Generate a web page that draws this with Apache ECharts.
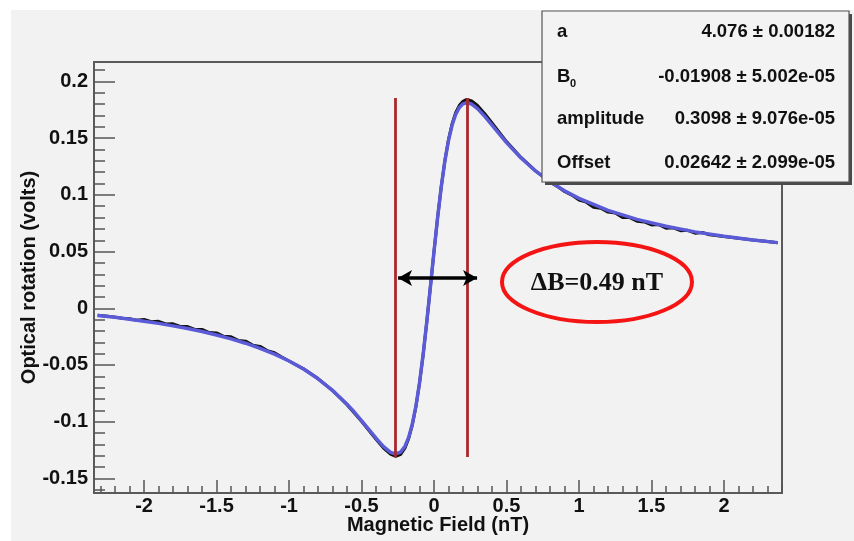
<!DOCTYPE html>
<html><head><meta charset="utf-8">
<script src="https://cdn.jsdelivr.net/npm/echarts@6/dist/echarts.min.js"></script>
<style>
html,body{margin:0;padding:0;background:#fff;}
#bg{position:absolute;left:11px;top:10px;width:843px;height:531px;background:#f2f2f2;}
#chart{position:absolute;left:0;top:0;width:854px;height:541px;}
</style></head><body>
<div id="bg"></div><div id="chart"></div>
<script>
// Fit curve (blue)
const fitX = [-2.32,-2.2,-2.1,-2.0,-1.9,-1.8,-1.7,-1.6,-1.5,-1.4,-1.3,-1.2,-1.1,-1.0,-0.9,-0.8,-0.7,-0.6,-0.55,-0.5,-0.45,-0.4,-0.35,-0.3,-0.264,-0.23,-0.2,-0.175,-0.15,-0.125,-0.1,-0.075,-0.05,-0.025,0,0.025,0.05,0.075,0.1,0.125,0.15,0.175,0.2,0.226,0.26,0.3,0.35,0.4,0.5,0.6,0.7,0.8,0.9,1.0,1.2,1.4,1.6,1.8,2.0,2.2,2.37];
const fitY = [-0.0063,-0.0080,-0.0096,-0.0114,-0.0133,-0.0155,-0.0179,-0.0205,-0.0236,-0.0270,-0.0308,-0.0353,-0.0405,-0.0465,-0.0536,-0.0622,-0.0724,-0.0846,-0.0915,-0.0990,-0.1068,-0.1146,-0.1218,-0.1271,-0.1285,-0.1268,-0.1216,-0.1139,-0.1023,-0.0864,-0.0658,-0.0408,-0.0121,0.0188,0.0502,0.0802,0.1071,0.1299,0.1480,0.1616,0.1711,0.1771,0.1803,0.1813,0.1800,0.1761,0.1692,0.1615,0.1461,0.1325,0.1211,0.1116,0.1036,0.0969,0.0863,0.0784,0.0723,0.0674,0.0635,0.0602,0.0579];
const dataX = [-2.32,-2.25,-2.2,-2.15,-2.1,-2.05,-2.0,-1.95,-1.9,-1.85,-1.8,-1.75,-1.7,-1.65,-1.6,-1.55,-1.5,-1.45,-1.4,-1.35,-1.3,-1.25,-1.2,-1.15,-1.1,-1.05,-1.0,-0.9,-0.8,-0.7,-0.6,-0.5,-0.45,-0.4,-0.35,-0.3,-0.264,-0.23,-0.2,-0.175,-0.15,-0.125,-0.1,-0.075,-0.05,-0.025,0,0.025,0.05,0.075,0.1,0.125,0.15,0.175,0.2,0.226,0.26,0.3,0.35,0.4,0.5,0.6,0.7,0.8,0.85,0.9,0.95,1.0,1.05,1.1,1.15,1.2,1.25,1.3,1.35,1.4,1.45,1.5,1.55,1.6,1.65,1.7,1.75,1.8,1.85,1.9,2.0,2.1,2.2,2.3,2.37];
const dataY = [-0.0061,-0.0071,-0.0078,-0.0088,-0.0093,-0.0106,-0.0098,-0.0118,-0.0115,-0.0138,-0.0137,-0.0160,-0.0161,-0.0186,-0.0187,-0.0214,-0.0217,-0.0247,-0.0251,-0.0283,-0.0290,-0.0325,-0.0336,-0.0373,-0.0392,-0.0430,-0.0465,-0.0534,-0.0620,-0.0725,-0.0850,-0.0996,-0.1076,-0.1156,-0.1230,-0.1287,-0.1307,-0.1288,-0.1232,-0.1150,-0.1030,-0.0868,-0.0660,-0.0410,-0.0122,0.0188,0.0502,0.0803,0.1073,0.1303,0.1488,0.1628,0.1728,0.1790,0.1825,0.1842,0.1828,0.1788,0.1716,0.1634,0.1470,0.1330,0.1212,0.1114,0.1075,0.1030,0.0998,0.0955,0.0936,0.0892,0.0883,0.0848,0.0840,0.0800,0.0800,0.0768,0.0762,0.0735,0.0738,0.0706,0.0710,0.0684,0.0688,0.0662,0.0668,0.0649,0.0634,0.0617,0.0602,0.0588,0.0578];

const xTicks = [-2,-1.5,-1,-0.5,0,0.5,1,1.5,2];
const yTicks = [-0.15,-0.1,-0.05,0,0.05,0.1,0.15,0.2];
const xMinor = [-2.3,-2.2,-2.1,-2.0,-1.9,-1.8,-1.7,-1.6,-1.5,-1.4,-1.3,-1.2,-1.1,-1.0,-0.9,-0.8,-0.7,-0.6,-0.5,-0.4,-0.3,-0.2,-0.1,0,0.1,0.2,0.3,0.4,0.5,0.6,0.7,0.8,0.9,1.0,1.1,1.2,1.3,1.4,1.5,1.6,1.7,1.8,1.9,2.0,2.1,2.2,2.3,2.4];
const yMinor = [-0.16,-0.15,-0.14,-0.13,-0.12,-0.11,-0.1,-0.09,-0.08,-0.07,-0.06,-0.05,-0.04,-0.03,-0.02,-0.01,0,0.01,0.02,0.03,0.04,0.05,0.06,0.07,0.08,0.09,0.1,0.11,0.12,0.13,0.14,0.15,0.16,0.17,0.18,0.19,0.2,0.21];
const xRange = [-2.345, 2.40];
const yRange = [-0.1629, 0.2172];

// Annotations
const markerX = [-0.269, 0.232];
const markerY = [-0.1311, 0.1855];
const arrowX = [-0.248, 0.297];
const arrowY = 0.0267;
const ellipseCenter = [1.124, 0.0232];
const annotationText = 'ΔB=0.49 nT';

const statNames = ['a', 'B', 'amplitude', 'Offset'];
const statValues = ['4.076 ± 0.00182', '-0.01908 ± 5.002e-05', '0.3098 ± 9.076e-05', '0.02642 ± 2.099e-05'];

const FONT = 'Liberation Sans, Arial, sans-serif';
const fmt = v => String(Math.round(v * 1000) / 1000);
const tickStyle = {color: '#555', width: 1.5};

const chart = echarts.init(document.getElementById('chart'), null, {renderer: 'canvas'});
const option = {
  backgroundColor: 'transparent',
  animation: false,
  grid: {left: 94, top: 62, width: 688, height: 431, containLabel: false, outerBoundsMode: 'none',
         show: true, borderColor: '#5a5a5a', borderWidth: 2, backgroundColor: 'transparent'},
  xAxis: [
    {type: 'value', min: xRange[0], max: xRange[1], position: 'bottom',
     name: 'Magnetic Field (nT)', nameLocation: 'middle', nameGap: 22, nameMoveOverlap: false,
     nameTextStyle: {fontFamily: FONT, fontWeight: 'bold', fontSize: 20, color: '#111'},
     axisLine: {show: false, onZero: false}, splitLine: {show: false},
     axisTick: {show: true, inside: true, length: 13, customValues: xTicks, lineStyle: tickStyle},
     axisLabel: {show: true, customValues: xTicks, margin: 3, formatter: fmt, fontFamily: FONT, fontWeight: 'bold', fontSize: 20, color: '#111'}},
    {type: 'value', min: xRange[0], max: xRange[1], position: 'bottom', offset: 0,
     axisLine: {show: false, onZero: false}, splitLine: {show: false}, axisLabel: {show: false},
     axisTick: {show: true, inside: true, length: 7, customValues: xMinor, lineStyle: tickStyle}}
  ],
  yAxis: [
    {type: 'value', min: yRange[0], max: yRange[1], position: 'left',
     name: 'Optical rotation (volts)', nameLocation: 'middle', nameGap: 55, nameMoveOverlap: false,
     nameTextStyle: {fontFamily: FONT, fontWeight: 'bold', fontSize: 20, color: '#111'},
     axisLine: {show: false, onZero: false}, splitLine: {show: false},
     axisTick: {show: true, inside: true, length: 21, customValues: yTicks, lineStyle: tickStyle},
     axisLabel: {show: true, customValues: yTicks, margin: 6, formatter: fmt, fontFamily: FONT, fontWeight: 'bold', fontSize: 20, color: '#111'}},
    {type: 'value', min: yRange[0], max: yRange[1], position: 'left', offset: 0,
     axisLine: {show: false, onZero: false}, splitLine: {show: false}, axisLabel: {show: false},
     axisTick: {show: true, inside: true, length: 11, customValues: yMinor, lineStyle: tickStyle}}
  ],
  series: [
    {type: 'line', name: 'data', data: dataX.map((x, i) => [x, dataY[i]]), showSymbol: false, z: 2,
     lineStyle: {color: '#111', width: 3}},
    {type: 'line', name: 'fit', data: fitX.map((x, i) => [x, fitY[i]]), showSymbol: false, z: 3,
     lineStyle: {color: '#5b5bd8', width: 3.5}},
    {type: 'line', name: 'marks', data: [], z: 5,
     markLine: {silent: true, symbol: ['none', 'none'], label: {show: false}, animation: false,
       data: [
         [{coord: [markerX[0], markerY[0]], lineStyle: {color: '#a82a2c', width: 2.8, type: 'solid'}}, {coord: [markerX[0], markerY[1]]}],
         [{coord: [markerX[1], markerY[0]], lineStyle: {color: '#a82a2c', width: 2.8, type: 'solid'}}, {coord: [markerX[1], markerY[1]]}],
         [{coord: [arrowX[0], arrowY], symbol: 'arrow', symbolSize: [12, 14], lineStyle: {color: '#000', width: 3.5, type: 'solid'}},
          {coord: [arrowX[1], arrowY], symbol: 'arrow', symbolSize: [12, 14]}]
       ]}}
  ]
};
chart.setOption(option);

const c = chart.convertToPixel({xAxisIndex: 0, yAxisIndex: 0}, ellipseCenter);
const boxX = 542, boxY = 11, boxW = 307, boxH = 171;
const rowY = [32, 77, 119, 163];
const g = [
  {type: 'ellipse', shape: {cx: c[0], cy: c[1], rx: 95, ry: 40}, style: {fill: null, stroke: '#f41414', lineWidth: 4}, z: 10},
  {type: 'text', x: c[0], y: c[1] + 1, style: {text: annotationText, fill: '#111', font: 'bold 26px "Liberation Serif", "Times New Roman", serif', textAlign: 'center', textVerticalAlign: 'middle'}, z: 10},
  {type: 'rect', shape: {x: boxX + 3, y: boxY + 3, width: boxW, height: boxH}, style: {fill: '#4a4a4a'}, z: 20},
  {type: 'rect', shape: {x: boxX, y: boxY, width: boxW, height: boxH}, style: {fill: '#f3f3f3', stroke: '#555', lineWidth: 1.2}, z: 21}
];
statNames.forEach((n, i) => {
  g.push({type: 'text', x: 557, y: rowY[i], style: {text: n, fill: '#111', font: 'bold 18.5px ' + FONT, textAlign: 'left', textVerticalAlign: 'middle'}, z: 22});
  g.push({type: 'text', x: 835, y: rowY[i], style: {text: statValues[i], fill: '#111', font: 'bold 18.5px ' + FONT, textAlign: 'right', textVerticalAlign: 'middle'}, z: 22});
});
g.push({type: 'text', x: 570, y: rowY[1] + 7, style: {text: '0', fill: '#111', font: 'bold 11px ' + FONT, textAlign: 'left', textVerticalAlign: 'middle'}, z: 22});
chart.setOption({graphic: g});
</script>
</body></html>
